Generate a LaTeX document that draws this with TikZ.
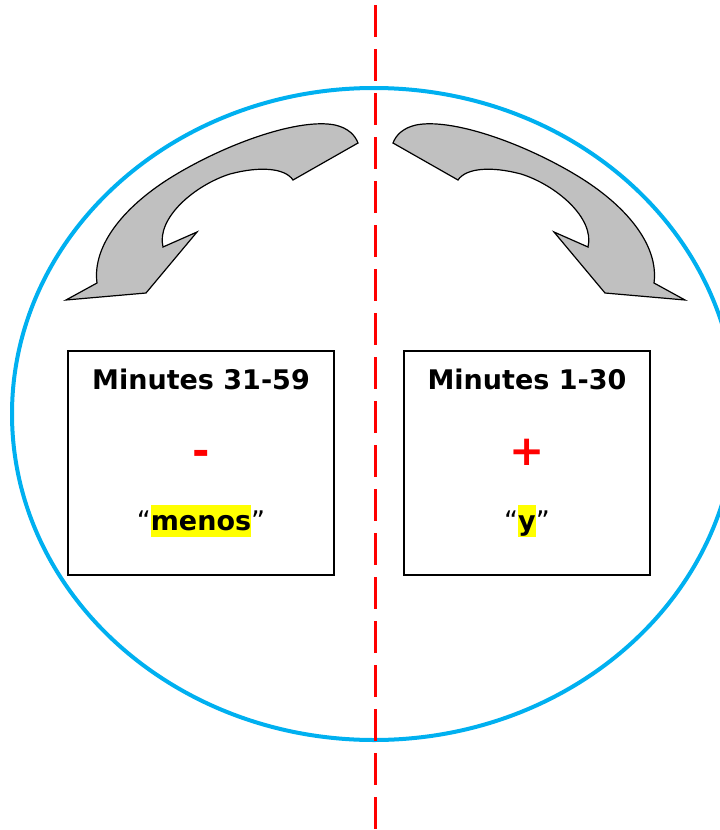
\documentclass[tikz,border=0pt]{standalone}
\usepackage{fontspec}
\setmainfont{DejaVu Sans}
\definecolor{ringblue}{HTML}{00B0F0}
\definecolor{arrowgray}{HTML}{C0C0C0}
\definecolor{hl}{HTML}{FFFF00}
\definecolor{signred}{HTML}{FF0000}
\tikzset{
  ring/.style={draw=ringblue, line width=4pt},
  divider/.style={draw=signred, line width=3pt, dash pattern=on 32pt off 12pt},
  minbox/.style={draw=black, line width=1.5pt, minimum height=224pt, inner sep=0pt},
  title/.style={anchor=base, font=\fontsize{27}{30}\selectfont\bfseries},
  sign/.style={anchor=base, text=signred, font=\fontsize{42}{44}\selectfont\bfseries},
  word/.style={anchor=base, font=\fontsize{27}{30}\selectfont},
  bentarrow/.pic={
    \filldraw[fill=arrowgray, draw=black, line width=1.2pt, line join=miter]
      (358,143) -- (293,180)
      .. controls (285,168) and (260,166) .. (230,174)
      .. controls (195,185) and (156,218) .. (163,247)
      -- (197,232) -- (146,293) -- (66,300) -- (97,283)
      .. controls (92,245) and (125,205) .. (175,175)
      .. controls (230,142) and (300,118) .. (335,125)
      .. controls (348,128) and (355,135) .. (358,143)
      -- cycle;
  }
}
\newcommand{\hlword}[1]{\begingroup\setlength{\fboxsep}{0pt}\colorbox{hl}{\rule[-7pt]{0pt}{32pt}\textbf{#1}}\endgroup}
\begin{document}
\begin{tikzpicture}[x=1pt, y=-1pt]
\clip (0,0) rectangle (720,830);
\fill[white] (0,0) rectangle (720,830);
% ring
\draw[ring] (374,414) ellipse [x radius=362pt, y radius=326pt];
% arrows
\pic (leftarrow) at (0,0) {bentarrow};
\pic[xscale=-1] (rightarrow) at (751,0) {bentarrow};
% boxes
\node[minbox, minimum width=266pt] (leftbox) at (201,463) {};
\node[minbox, minimum width=246pt] (rightbox) at (527,463) {};
\node[title] (lefttitle) at (201,389) {Minutes 31-59};
\node[title] (righttitle) at (527,389) {Minutes 1-30};
\node[sign] (minus) at (201,465) {-};
\node[sign] (plus) at (527,465) {+};
\node[word] (menos) at (201,530) {“\hlword{menos}”};
\node[word] (yword) at (527,530) {“\hlword{y}”};
% divider
\coordinate (dtop) at (375,5);
\coordinate (dbot) at (375,830);
\draw[divider] (dtop) -- (dbot);
\end{tikzpicture}
\end{document}
